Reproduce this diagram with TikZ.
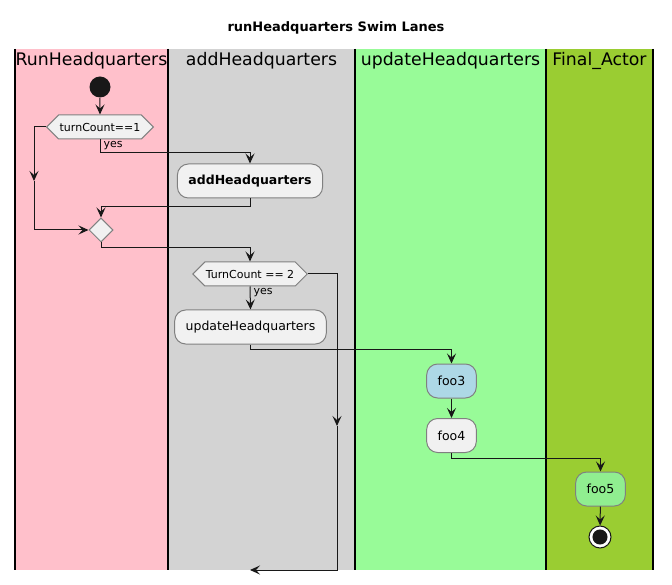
\documentclass[tikz,border=0pt]{standalone}
\usepackage{fontspec}
\setmainfont{DejaVu Sans}
\usetikzlibrary{arrows.meta,shapes.geometric,shapes.symbols}
\definecolor{lanePink}{HTML}{FFC0CB}
\definecolor{laneGray}{HTML}{D3D3D3}
\definecolor{laneGreen}{HTML}{98FB98}
\definecolor{laneOlive}{HTML}{9ACD32}
\definecolor{actFill}{HTML}{F1F1F1}
\definecolor{actLine}{HTML}{808080}
\definecolor{inkDark}{HTML}{181818}
\definecolor{fooBlue}{HTML}{ADD8E6}
\definecolor{fooGreen}{HTML}{90EE90}
\tikzset{
  flownode/.style = {align=center, text centered, text=black},
  % activity: rounded box, grey outline
  act_A/.style = {flownode, rectangle, rounded corners=11pt, draw=actLine, fill=actFill,
    minimum height=34pt, inner xsep=11pt, inner ysep=0pt, font=\fontsize{12.5pt}{15pt}\selectfont},
  % decision: hexagon
  dec_D/.style = {flownode, signal, signal to=east and west, signal pointer angle=90,
    draw=actLine, fill=actFill, minimum height=24pt, inner xsep=1pt, inner ysep=0pt,
    font=\fontsize{11pt}{13pt}\selectfont},
  mrg_D/.style = {diamond, draw=actLine, fill=actFill, minimum size=24pt, inner sep=0pt},
  strt_S/.style = {circle, fill=inkDark, minimum size=21pt, inner sep=0pt},
  end_E/.style = {circle, draw=inkDark, fill=white, minimum size=22pt, inner sep=0pt,
    path picture={\fill[inkDark] (path picture bounding box.center) circle (7pt);}},
  lane_H/.style = {font=\fontsize{17.3pt}{20pt}\selectfont, inner sep=0pt},
  lbl_Y/.style = {font=\fontsize{11pt}{13pt}\selectfont, inner sep=0pt, anchor=west}
}

\begin{document}
\begin{tikzpicture}[x=1pt,y=-1pt,
    ->,>={Stealth[length=10pt,width=9pt,inset=4pt]},
    every path/.style={draw=inkDark, line width=1pt}
    ]
    \useasboundingbox[draw=none] (0,0) rectangle (672,585);
    % Title:
    \node[draw=none, font=\fontsize{13pt}{15pt}\selectfont\bfseries] (title) at (336,28) {runHeadquarters Swim Lanes};
    % Swim lanes:
    \fill[lanePink,draw=none] (15,49) rectangle (168,570);
    \fill[laneGray,draw=none] (168,49) rectangle (355,570);
    \fill[laneGreen,draw=none] (355,49) rectangle (546,570);
    \fill[laneOlive,draw=none] (546,49) rectangle (653,570);
    \foreach \lx in {15,168,355,546,653}
      \draw[-, line width=1.5pt, black] (\lx,49) -- (\lx,570);
    \node[lane_H] (hRun) at (91.5,61) {RunHeadquarters};
    \node[lane_H] (hAdd) at (261.5,61) {addHeadquarters};
    \node[lane_H] (hUpd) at (450.5,61) {updateHeadquarters};
    \node[lane_H] (hFin) at (599.5,61) {Final\_Actor};
    % Lane 1 - start and first decision:
    \node[strt_S] (start) at (100,87) {};
    \node[dec_D] (dec1) at (100,127) {turnCount==1};
    \node[mrg_D] (merge) at (101,230) {};
    % Lane 2 - activities:
    \node[act_A, font=\fontsize{12.5pt}{15pt}\selectfont\bfseries] (addHQ) at (250,181) {addHeadquarters};
    \node[dec_D] (dec2) at (250,274) {TurnCount == 2};
    \node[act_A] (updHQ) at (250.5,327) {updateHeadquarters};
    % Lane 3 and 4:
    \node[act_A, fill=fooBlue] (foo3) at (451.5,381) {foo3};
    \node[act_A] (foo4) at (451.5,435.5) {foo4};
    \node[act_A, fill=fooGreen] (foo5) at (600.5,489) {foo5};
    \node[end_E] (stop) at (600,537) {};
    % free ends of the long branches
    \coordinate (lftMid) at (34,181);
    \coordinate (rgtMid) at (337,426);
    \coordinate (rgtEnd) at (250,570);
    % Connectors:
    \draw (start) -- (dec1);
    \draw (dec1.south) -- ++(0,13) -| (addHQ.north);
    \node[lbl_Y] (yes1) at (103,146) {yes};
    \draw (dec1.west) -| (lftMid);
    \draw (lftMid) |- (merge.west);
    \draw (addHQ.south) -- ++(0,8) -| (merge.north);
    \draw (merge.south) -- ++(0,5) -| (dec2.north);
    \draw (dec2.south) -- (updHQ.north);
    \node[lbl_Y] (yes2) at (253,293) {yes};
    \draw (dec2.east) -| (rgtMid);
    \draw (rgtMid) |- (rgtEnd);
    \draw (updHQ.south) -- ++(0,5) -| (foo3.north);
    \draw (foo3) -- (foo4);
    \draw (foo4.south) -- ++(0,5) -| (foo5.north);
    \draw (foo5) -- (stop);
\end{tikzpicture}
\end{document}
